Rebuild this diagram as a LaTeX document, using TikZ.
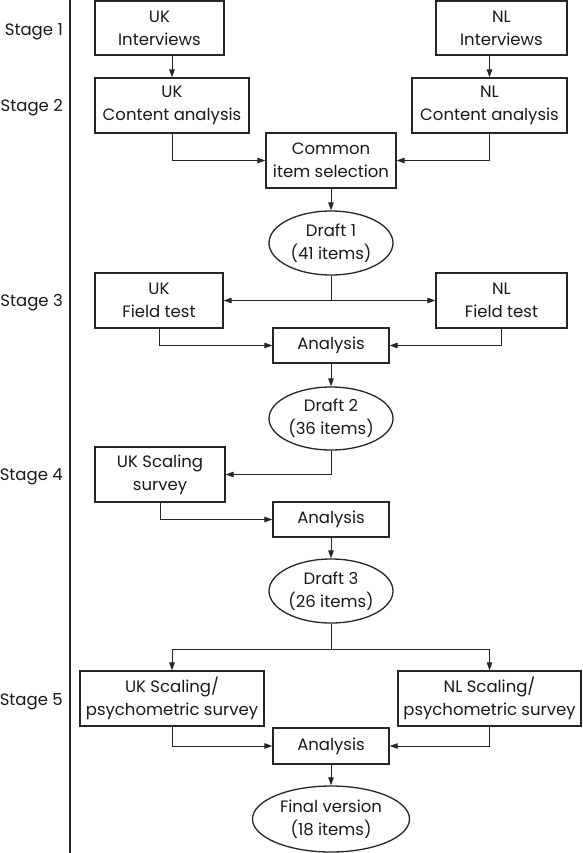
\documentclass[tikz,border=0pt]{standalone}
\usepackage{fontspec}
\setmainfont{Poppins}
\usetikzlibrary{arrows.meta,shapes.geometric}
\begin{document}
\begin{tikzpicture}[x=1pt,y=-1pt,
  every node/.style={font=\fontsize{16.5}{23}\selectfont, text=black!90, inner sep=0pt},
  box/.style={draw=black!85, line width=1.3pt, align=center, minimum height=55pt},
  abox/.style={draw=black!85, line width=1.3pt, align=center, minimum width=116pt, minimum height=35pt},
  oval/.style={draw=black!85, line width=1.3pt, ellipse, align=center},
  stagelbl/.style={anchor=east},
  conn/.style={draw=black!85, line width=0.9pt},
  arr/.style={conn, -{Triangle[length=8pt,width=5.5pt]}}
]
\useasboundingbox (0,0) rectangle (582,853);
\fill[white] (0,0) rectangle (582,853);

% left rule
\coordinate (rt) at (70,0);
\coordinate (rb) at (70,853);
\draw[black!85, line width=1.8pt] (rt) -- (rb);

% stage labels
\node[stagelbl] (s1) at (63,32) {Stage 1};
\node[stagelbl] (s2) at (63,108) {Stage 2};
\node[stagelbl] (s3) at (63,303) {Stage 3};
\node[stagelbl] (s4) at (63,477) {Stage 4};
\node[stagelbl] (s5) at (63,702) {Stage 5};

% stage 1-2
\node[box, minimum width=129pt, minimum height=54pt] (uki) at (159.5,28) {UK\\Interviews};
\node[box, minimum width=131pt, minimum height=54pt] (nli) at (501.5,28) {NL\\Interviews};
\node[box, minimum width=154pt] (ukc) at (172,105.5) {UK\\Content analysis};
\node[box, minimum width=155pt] (nlc) at (489.5,105.5) {NL\\Content analysis};
\node[box, minimum width=130pt] (com) at (331,160.5) {Common\\item selection};
\node[oval, minimum width=124pt, minimum height=64pt] (d1) at (331,243) {Draft 1\\(41 items)};

\draw[arr] (ukc.north |- uki.south) -- (ukc.north);
\draw[arr] (nlc.north |- nli.south) -- (nlc.north);
\draw[arr] (ukc.south) |- (com.west);
\draw[arr] (nlc.south) |- (com.east);
\draw[arr] (com.south) -- (d1.north);

% stage 3
\node[box, minimum width=128pt] (ukf) at (159,300.5) {UK\\Field test};
\node[box, minimum width=131pt] (nlf) at (501.5,300.5) {NL\\Field test};
\node[abox] (an1) at (331,345.5) {Analysis};
\node[oval, minimum width=124pt, minimum height=63pt] (d2) at (331,418.5) {Draft 2\\(36 items)};
\coordinate (j1) at (331,300.5);
\draw[conn] (d1.south) -- (j1);
\draw[arr] (j1) -- (ukf.east);
\draw[arr] (j1) -- (nlf.west);
\draw[arr] (ukf.south) |- (an1.west);
\draw[arr] (nlf.south) |- (an1.east);
\draw[arr] (an1.south) -- (d2.north);

% stage 4
\node[box, minimum width=130pt] (uks) at (160,474.5) {UK Scaling\\survey};
\node[abox] (an2) at (331,519.5) {Analysis};
\node[oval, minimum width=124pt, minimum height=64pt] (d3) at (331,591) {Draft 3\\(26 items)};
\draw[arr] (d2.south) |- (uks.east);
\draw[arr] (uks.south) |- (an2.west);
\draw[arr] (an2.south) -- (d3.north);

% stage 5
\node[box, minimum width=184pt] (ukp) at (172,698.5) {UK Scaling/\\psychometric survey};
\node[box, minimum width=183pt] (nlp) at (489.5,698.5) {NL Scaling/\\psychometric survey};
\node[abox, minimum height=36pt] (an3) at (331,746) {Analysis};
\node[oval, minimum width=157pt, minimum height=66pt] (fin) at (331,819) {Final version\\(18 items)};
\coordinate (j2) at (331,649);
\draw[conn] (d3.south) -- (j2);
\draw[arr] (j2) -| (ukp.north);
\draw[arr] (j2) -| (nlp.north);
\draw[arr] (ukp.south) |- (an3.west);
\draw[arr] (nlp.south) |- (an3.east);
\draw[arr] (an3.south) -- (fin.north);
\end{tikzpicture}
\end{document}
